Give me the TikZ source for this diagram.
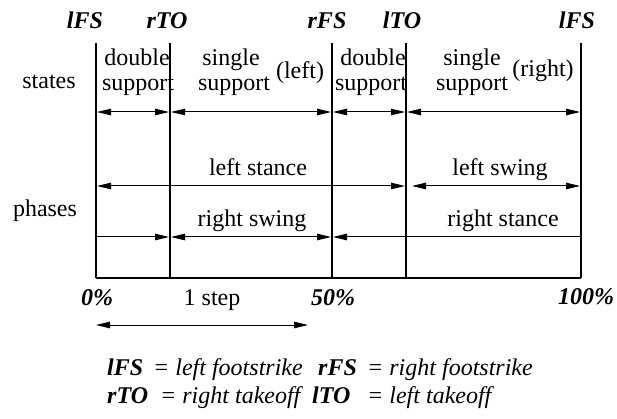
\documentclass[tikz,border=0pt]{standalone}
\usepackage{fontspec}
\setmainfont{Liberation Serif}
\usetikzlibrary{arrows.meta}
\tikzset{
  txt/.style={anchor=base, inner sep=0pt, font=\fontsize{24}{25}\selectfont},
  ev/.style={anchor=base, inner sep=0pt, font=\fontsize{24}{25}\selectfont\bfseries\itshape},
  lgk/.style={anchor=base west, inner sep=0pt, font=\fontsize{24}{25}\selectfont\bfseries\itshape},
  lgv/.style={anchor=base west, inner sep=0pt, font=\fontsize{24}{25}\selectfont\itshape},
  vl/.style={line width=1.3pt},
  tip/.tip={Triangle[length=14pt,width=6.5pt]},
  both/.style={line width=1pt, {tip}-{tip}, shorten <=1pt, shorten >=1pt},
  toend/.style={line width=1pt, -{tip}, shorten >=1pt},
  tostart/.style={line width=1pt, {tip}-, shorten <=1pt},
}
\begin{document}
\begin{tikzpicture}[x=1pt,y=-1pt]
\useasboundingbox (0,0) rectangle (617,419);
% vertical event lines
\foreach \n/\x in {0/96,1/170,2/332,3/406,4/581}{
  \coordinate (t\n) at (\x,43);
  \coordinate (b\n) at (\x,278);
  \draw[vl] (t\n) -- (b\n);
}
\draw[vl] (b0) -- (b4);
% event labels
\node[ev] (e0) at (85,29) {lFS};
\node[ev] (e1) at (167,29) {rTO};
\node[ev] (e2) at (327,29) {rFS};
\node[ev] (e3) at (402,29) {lTO};
\node[ev] (e4) at (577,29) {lFS};
% states
\node[txt] (states) at (49,89) {states};
\node[txt] (ds1a) at (137,66) {double};
\node[txt] (ds1b) at (138,91) {support};
\node[txt] (ss1a) at (231,66) {single};
\node[txt] (ss1b) at (234,91) {support};
\node[txt] (ssl) at (300,79) {(left)};
\node[txt] (ds2a) at (373,66) {double};
\node[txt] (ds2b) at (371,91) {support};
\node[txt] (ss2a) at (472,66) {single};
\node[txt] (ss2b) at (472,91) {support};
\node[txt] (ssr) at (543,77) {(right)};
\draw[both] (t0|-0,112) -- (t1|-0,112);
\draw[both] (t1|-0,112) -- (t2|-0,112);
\draw[both] (t2|-0,112) -- (t3|-0,112);
\draw[both] (t3|-0,112) -- (t4|-0,112);
% phases
\node[txt] (phases) at (45,217) {phases};
\node[txt] (lst) at (258,176) {left stance};
\node[txt] (lsw) at (500,176) {left swing};
\node[txt] (rsw) at (252,227) {right swing};
\node[txt] (rst) at (503,227) {right stance};
\draw[both] (t0|-0,186) -- (t3|-0,186);
\draw[both, shorten <=6pt] (t3|-0,186) -- (t4|-0,186);
\draw[toend] (t0|-0,237) -- (t1|-0,237);
\draw[both] (t1|-0,237) -- (t2|-0,237);
\draw[tostart] (t2|-0,237) -- (t4|-0,237);
% percentages
\node[ev] (p0) at (97,305) {0\%};
\node[txt] (step) at (212,305) {1 step};
\node[ev] (p50) at (333,305) {50\%};
\node[ev] (p100) at (586,304) {100\%};
\coordinate (sa) at (95,325);
\coordinate (sb) at (309,325);
\draw[both] (sa) -- (sb);
% legend
\node[lgk] (k1) at (107,375) {lFS};
\node[lgv] (v1) at (153,375) {= left footstrike};
\node[lgk] (k2) at (318,375) {rFS};
\node[lgv] (v2) at (367,375) {= right footstrike};
\node[lgk] (k3) at (107,403) {rTO};
\node[lgv] (v3) at (160,403) {= right takeoff};
\node[lgk] (k4) at (312,403) {lTO};
\node[lgv] (v4) at (367,403) {= left takeoff};
\end{tikzpicture}
\end{document}
